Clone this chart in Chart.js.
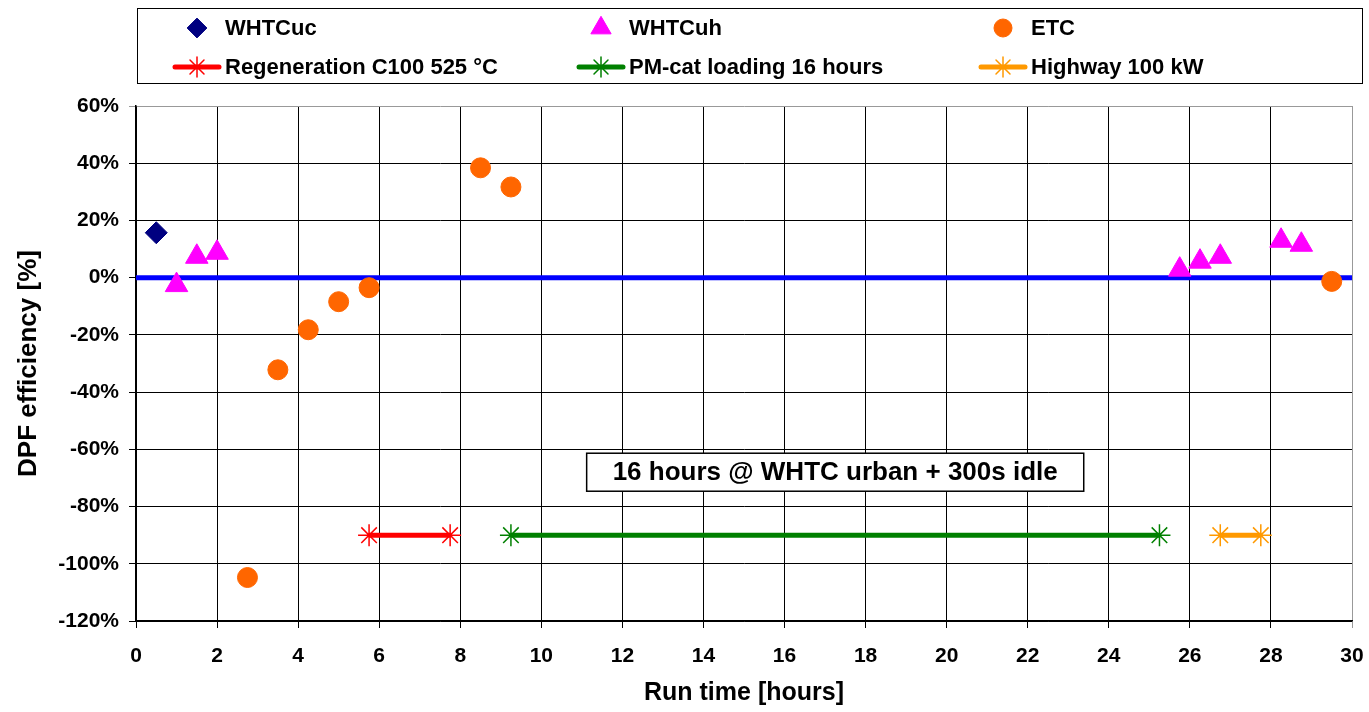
<!DOCTYPE html>
<html>
  <head>
    <title>DPF efficiency vs run time</title>
    <script src="https://cdn.jsdelivr.net/npm/chart.js"></script>
    <style>
      body {
        margin: 0;
        background: #ffffff;
      }
    </style>
  </head>
  <body>
    <canvas id="myChart" width="1369" height="712"></canvas>

    <script>
// run time [hours] and DPF efficiency [%]
const whtcucTime = [0.5];
const whtcucEff = [15.7];
const whtcuhTime = [1.0, 1.5, 2.0, 25.75, 26.25, 26.75, 28.25, 28.75];
const whtcuhEff = [-2.6, 7.3, 8.7, 2.8, 5.6, 7.3, 12.9, 11.5];
const etcTime = [2.75, 3.5, 4.25, 5.0, 5.75, 8.5, 9.25, 29.5];
const etcEff = [-104.8, -32.2, -18.2, -8.4, -3.5, 38.4, 31.7, -1.3];

// conditioning phases, drawn as bars at -90 %
const regenTime = [5.75, 7.75];
const pmcatTime = [9.25, 25.25];
const highwayTime = [26.75, 27.75];
const phaseLevel = -90;

// zero reference line
const zeroTime = [0, 30];

const noteText = "16 hours @ WHTC urban + 300s idle";
const noteAt = [17.25, -68];

const FONT = "'Liberation Sans', Arial, sans-serif";
Chart.defaults.font.family = FONT;
Chart.defaults.color = "#000";

function pts(xs, ys) {
    return xs.map((x, i) => ({ x: x, y: ys[i] }));
}
function level(xs, y) {
    return xs.map(x => ({ x: x, y: y }));
}

// legend drawn as a framed 3 x 2 grid like the original
const boxLegend = {
    id: "boxLegend",
    afterDraw(chart) {
        const ctx = chart.ctx;
        const box = { left: 137, top: 8, right: 1362, bottom: 83 };
        const markerX = [197, 601, 1003];
        const rowY = [28, 67];
        ctx.save();
        ctx.strokeStyle = "#000";
        ctx.lineWidth = 1;
        ctx.strokeRect(box.left + 0.5, box.top + 0.5, box.right - box.left, box.bottom - box.top);

        const items = chart.data.datasets.filter(d => d.label);
        items.forEach((d, i) => {
            const x = markerX[i % 3];
            const y = rowY[Math.floor(i / 3)];
            if (d.showLine) {
                ctx.strokeStyle = d.borderColor;
                ctx.lineWidth = d.borderWidth;
                ctx.lineCap = "round";
                ctx.beginPath();
                ctx.moveTo(x - 22, y);
                ctx.lineTo(x + 22, y);
                ctx.stroke();
            }
            ctx.fillStyle = d.pointBackgroundColor || d.backgroundColor;
            ctx.strokeStyle = d.pointBorderColor || d.borderColor;
            ctx.lineWidth = d.pointBorderWidth || 1;
            Chart.helpers.drawPoint(ctx, {
                pointStyle: d.pointStyle,
                radius: d.pointRadius * 0.9,
                rotation: 0,
                borderWidth: d.pointBorderWidth || 1
            }, x, y);
            ctx.fillStyle = "#000";
            ctx.font = "bold 22px " + FONT;
            ctx.textAlign = "left";
            ctx.textBaseline = "middle";
            ctx.fillText(d.label, x + 28, y + 1);
        });
        ctx.restore();
    }
};

// framed text note inside the plot
const noteBox = {
    id: "noteBox",
    afterDatasetsDraw(chart) {
        const ctx = chart.ctx;
        const cx = chart.scales.x.getPixelForValue(noteAt[0]);
        const cy = chart.scales.y.getPixelForValue(noteAt[1]);
        ctx.save();
        ctx.font = "bold 26px " + FONT;
        const w = ctx.measureText(noteText).width + 52;
        const h = 38;
        ctx.fillStyle = "#fff";
        ctx.fillRect(cx - w / 2, cy - h / 2, w, h);
        ctx.strokeStyle = "#000";
        ctx.lineWidth = 1.5;
        ctx.strokeRect(cx - w / 2, cy - h / 2, w, h);
        ctx.fillStyle = "#000";
        ctx.textAlign = "center";
        ctx.textBaseline = "middle";
        ctx.fillText(noteText, cx, cy + 1);
        ctx.restore();
    }
};

const ctx = document.getElementById("myChart").getContext("2d");
new Chart(ctx, {
    type: "scatter",
    data: {
        datasets: [
            {
                label: "WHTCuc",
                data: pts(whtcucTime, whtcucEff),
                pointStyle: "rectRot",
                pointRadius: 11,
                backgroundColor: "#000080",
                borderColor: "#000080",
                pointBorderWidth: 1,
                showLine: false
            },
            {
                label: "WHTCuh",
                data: pts(whtcuhTime, whtcuhEff),
                pointStyle: "triangle",
                pointRadius: 13,
                backgroundColor: "#FF00FF",
                borderColor: "#FF00FF",
                pointBorderWidth: 1,
                showLine: false
            },
            {
                label: "ETC",
                data: pts(etcTime, etcEff),
                pointStyle: "circle",
                pointRadius: 10,
                backgroundColor: "#FF6600",
                borderColor: "#FF6600",
                pointBorderWidth: 1,
                showLine: false
            },
            {
                label: "Regeneration C100 525 °C",
                data: level(regenTime, phaseLevel),
                showLine: true,
                borderColor: "#FF0000",
                backgroundColor: "#FF0000",
                borderWidth: 5,
                pointStyle: "star",
                pointRadius: 11,
                pointBorderColor: "#FF0000",
                pointBorderWidth: 1.5
            },
            {
                label: "PM-cat loading 16 hours",
                data: level(pmcatTime, phaseLevel),
                showLine: true,
                borderColor: "#008000",
                backgroundColor: "#008000",
                borderWidth: 5,
                pointStyle: "star",
                pointRadius: 11,
                pointBorderColor: "#008000",
                pointBorderWidth: 1.5
            },
            {
                label: "Highway 100 kW",
                data: level(highwayTime, phaseLevel),
                showLine: true,
                borderColor: "#FF9900",
                backgroundColor: "#FF9900",
                borderWidth: 5,
                pointStyle: "star",
                pointRadius: 11,
                pointBorderColor: "#FF9900",
                pointBorderWidth: 1.5
            },
            {
                label: "",
                data: level(zeroTime, 0),
                showLine: true,
                borderColor: "#0000FF",
                borderWidth: 5,
                pointRadius: 0
            }
        ]
    },
    options: {
        responsive: false,
        animation: false,
        devicePixelRatio: 1,
        layout: {
            padding: { top: 106, right: 17, left: 0, bottom: 0 }
        },
        plugins: {
            legend: { display: false },
            tooltip: { enabled: false }
        },
        scales: {
            x: {
                type: "linear",
                min: 0,
                max: 30,
                afterFit(scale) {
                    scale.height = 91;
                    scale.paddingLeft = 0;
                    scale.paddingRight = 0;
                },
                ticks: {
                    stepSize: 2,
                    autoSkip: false,
                    maxRotation: 0,
                    padding: 16,
                    color: "#000",
                    font: { size: 21, weight: "bold" }
                },
                grid: {
                    color: c => (c.tick && c.tick.value === 30 ? "#999" : "#000"),
                    lineWidth: 1,
                    tickLength: 7
                },
                border: { color: "#000", width: 1.5 },
                title: {
                    display: true,
                    text: "Run time [hours]",
                    color: "#000",
                    font: { size: 25, weight: "bold" },
                    padding: { top: 0, bottom: 4 }
                }
            },
            y: {
                min: -120,
                max: 60,
                afterFit(scale) {
                    scale.width = 136;
                },
                ticks: {
                    stepSize: 20,
                    padding: 10,
                    color: "#000",
                    font: { size: 21, weight: "bold" },
                    callback: v => v + "%"
                },
                grid: {
                    color: c => (c.tick && c.tick.value === 60 ? "#999" : "#000"),
                    lineWidth: 1,
                    tickLength: 7
                },
                border: { color: "#000", width: 1.5 },
                title: {
                    display: true,
                    text: "DPF efficiency [%]",
                    color: "#000",
                    font: { size: 26, weight: "bold" },
                    padding: { top: 13, bottom: 0 }
                }
            }
        }
    },
    plugins: [boxLegend, noteBox]
});
    </script>
  </body>
</html>
